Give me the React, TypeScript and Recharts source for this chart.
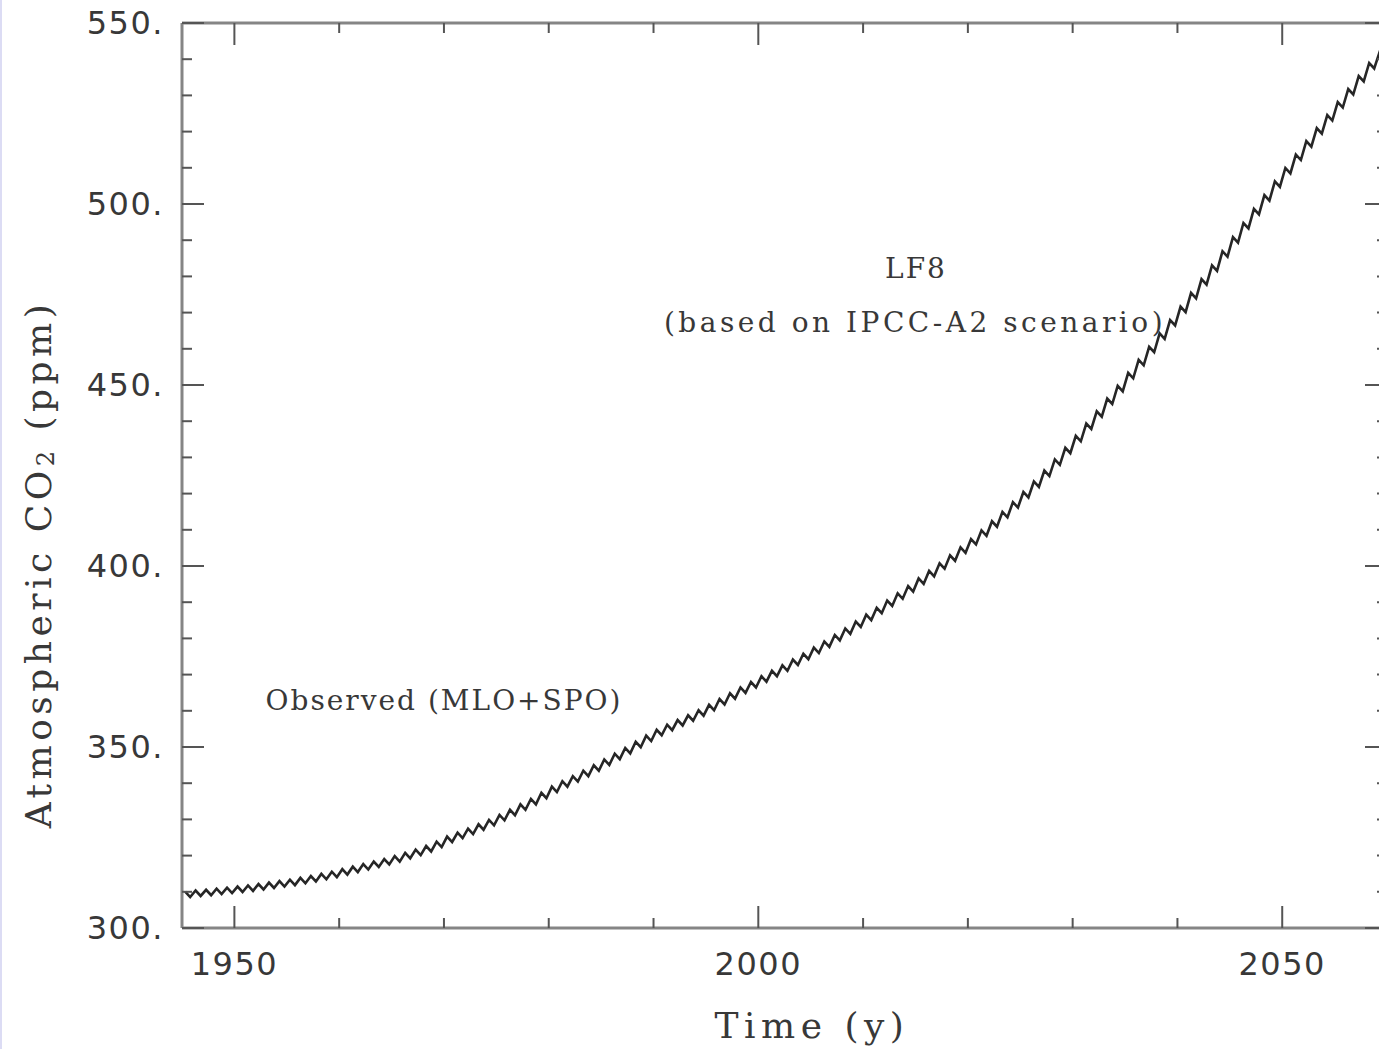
import React from 'react';
import { LineChart, Line, XAxis, YAxis, Customized } from 'recharts';

// Annual mean CO2 (ppm), one value per year starting at START_YEAR
const START_YEAR = 1945;
const ANNUAL_CO2 = [
  309.3, 309.6, 309.8, 310.1, 310.4, // 1945-1949
  310.7, 311.0, 311.4, 311.8, 312.2, // 1950-1954
  312.6, 313.1, 313.6, 314.2, 314.8, // 1955-1959
  315.5, 316.2, 316.9, 317.6, 318.3, // 1960-1964
  319.1, 320.0, 320.9, 321.9, 323.1, // 1965-1969
  324.5, 325.6, 326.7, 327.9, 329.1, // 1970-1974
  330.5, 331.9, 333.4, 334.9, 336.6, // 1975-1979
  338.3, 339.8, 341.2, 342.7, 344.2, // 1980-1984
  345.8, 347.4, 349.0, 350.7, 352.4, // 1985-1989
  354.0, 355.4, 356.7, 358.0, 359.4, // 1990-1994
  360.9, 362.5, 364.1, 365.7, 367.2, // 1995-1999
  368.8, 370.3, 371.8, 373.4, 375.0, // 2000-2004
  376.7, 378.4, 380.2, 382.0, 383.9, // 2005-2009
  385.8, 387.7, 389.7, 391.7, 393.7, // 2010-2014
  395.8, 397.9, 400.0, 402.2, 404.4, // 2015-2019
  406.7, 409.1, 411.6, 414.2, 416.9, // 2020-2024
  419.7, 422.6, 425.6, 428.7, 431.9, // 2025-2029
  435.2, 438.6, 442.0, 445.5, 449.0, // 2030-2034
  452.6, 456.2, 459.8, 463.5, 467.2, // 2035-2039
  470.9, 474.7, 478.5, 482.3, 486.2, // 2040-2044
  490.1, 494.0, 497.9, 501.7, 505.5, // 2045-2049
  509.2, 512.9, 516.6, 520.2, 523.8, // 2050-2054
  527.4, 531.0, 534.6, 538.2, 541.3, // 2055-2059
  544.4, // 2060
];

// Seasonal cycle: position of the yearly maximum / minimum and offset from the annual mean (ppm)
const SEASON_PHASE = [0.3, 0.78];
const SEASON_OFFSET = [0.75, -0.75];

const X_DOMAIN = [1945, 2060];
const Y_DOMAIN = [300, 550];
const X_TICKS = [1950, 1960, 1970, 1980, 1990, 2000, 2010, 2020, 2030, 2040, 2050, 2060];
const X_MAJOR = [1950, 2000, 2050];
const Y_TICKS = [300, 310, 320, 330, 340, 350, 360, 370, 380, 390, 400, 410, 420, 430, 440, 450, 460, 470, 480, 490, 500, 510, 520, 530, 540, 550];
const Y_MAJOR = [300, 350, 400, 450, 500, 550];

const data: { t: number; co2: number }[] = [];
ANNUAL_CO2.forEach((v, i) => {
  const yr = START_YEAR + i;
  SEASON_PHASE.forEach((p, k) => {
    const t = yr + p;
    if (t <= X_DOMAIN[1]) data.push({ t, co2: +(v + SEASON_OFFSET[k]).toFixed(2) });
  });
});

const TICK_COLOR = '#555555';
const AXIS_COLOR = '#858585';
const TEXT_COLOR = '#383838';
const SANS = '"DejaVu Sans", sans-serif';
const SERIF = '"DejaVu Serif", serif';
const MAJOR_LEN = 22;
const MINOR_LEN = 10;

const BottomTick = (props: any) => {
  const { x, y, payload } = props;
  const major = X_MAJOR.includes(payload.value);
  return (
    <g>
      <line x1={x} x2={x} y1={y} y2={y - (major ? MAJOR_LEN : MINOR_LEN)} stroke={TICK_COLOR} strokeWidth={2} />
      {major && (
        <text x={x} y={y + 36} textAnchor="middle" dominantBaseline="central" fontFamily={SANS} fontSize={32} letterSpacing={1.5} fill={TEXT_COLOR}>
          {payload.value}
        </text>
      )}
    </g>
  );
};

const TopTick = (props: any) => {
  const { x, y, payload } = props;
  const major = X_MAJOR.includes(payload.value);
  return <line x1={x} x2={x} y1={y} y2={y + (major ? MAJOR_LEN : MINOR_LEN)} stroke={TICK_COLOR} strokeWidth={2} />;
};

const LeftTick = (props: any) => {
  const { x, y, payload } = props;
  const major = Y_MAJOR.includes(payload.value);
  return (
    <g>
      <line x1={x} x2={x + (major ? MAJOR_LEN : MINOR_LEN)} y1={y} y2={y} stroke={TICK_COLOR} strokeWidth={2} />
      {major && (
        <text x={x - 18} y={y} textAnchor="end" dominantBaseline="central" fontFamily={SANS} fontSize={32} letterSpacing={1.5} fill={TEXT_COLOR}>
          {payload.value + '.'}
        </text>
      )}
    </g>
  );
};

const RightTick = (props: any) => {
  const { x, y, payload } = props;
  const major = Y_MAJOR.includes(payload.value);
  return <line x1={x} x2={x - (major ? MAJOR_LEN : MINOR_LEN)} y1={y} y2={y} stroke={TICK_COLOR} strokeWidth={2} />;
};

const Annotations = () => (
  <g>
    <text
      x={38}
      y={564}
      transform="rotate(-90 38 564)"
      textAnchor="middle"
      dominantBaseline="central"
      fontFamily={SERIF}
      fontSize={36}
      letterSpacing={4.5}
      fill={TEXT_COLOR}
    >
      Atmospheric CO
      <tspan fontSize={24} dy={8}>2</tspan>
      <tspan dy={-8}> (ppm)</tspan>
    </text>
    <text x={812} y={1025} textAnchor="middle" dominantBaseline="central" fontFamily={SERIF} fontSize={36} letterSpacing={5.5} fill={TEXT_COLOR}>
      Time (y)
    </text>
    <text x={444} y={700} textAnchor="middle" dominantBaseline="central" fontFamily={SERIF} fontSize={28} letterSpacing={2} fill={TEXT_COLOR}>
      Observed (MLO+SPO)
    </text>
    <text x={916} y={268} textAnchor="middle" dominantBaseline="central" fontFamily={SERIF} fontSize={28} letterSpacing={2} fill={TEXT_COLOR}>
      LF8
    </text>
    <text x={915} y={322} textAnchor="middle" dominantBaseline="central" fontFamily={SERIF} fontSize={28} letterSpacing={3.5} fill={TEXT_COLOR}>
      (based on IPCC-A2 scenario)
    </text>
  </g>
);

export default function App() {
  return (
    <div
      style={{
        position: 'fixed',
        left: 0,
        top: 0,
        width: 1379,
        height: 1049,
        overflow: 'hidden',
        background: '#ffffff',
      }}
    >
      <LineChart width={1400} height={1049} data={data} margin={{ top: 22, right: 12, bottom: 0, left: 0 }}>
        <XAxis
          xAxisId={0}
          dataKey="t"
          type="number"
          domain={X_DOMAIN}
          allowDataOverflow
          ticks={X_TICKS}
          interval={0}
          tickSize={0}
          tickMargin={0}
          height={121}
          tick={<BottomTick />}
          tickLine={false}
          axisLine={{ stroke: AXIS_COLOR, strokeWidth: 3 }}
        />
        <XAxis
          xAxisId="top"
          orientation="top"
          dataKey="t"
          type="number"
          domain={X_DOMAIN}
          allowDataOverflow
          ticks={X_TICKS}
          interval={0}
          tickSize={0}
          tickMargin={0}
          height={1}
          tick={<TopTick />}
          tickLine={false}
          axisLine={{ stroke: AXIS_COLOR, strokeWidth: 3 }}
        />
        <YAxis
          yAxisId={0}
          type="number"
          domain={Y_DOMAIN}
          allowDataOverflow
          ticks={Y_TICKS}
          interval={0}
          tickSize={0}
          tickMargin={0}
          width={182}
          tick={<LeftTick />}
          tickLine={false}
          axisLine={{ stroke: AXIS_COLOR, strokeWidth: 3 }}
        />
        <YAxis
          yAxisId="right"
          orientation="right"
          type="number"
          domain={Y_DOMAIN}
          allowDataOverflow
          ticks={Y_TICKS}
          interval={0}
          tickSize={0}
          tickMargin={0}
          width={1}
          tick={<RightTick />}
          tickLine={false}
          axisLine={{ stroke: AXIS_COLOR, strokeWidth: 3 }}
        />
        <Line
          xAxisId="top"
          yAxisId="right"
          type="linear"
          dataKey="co2"
          stroke="none"
          strokeWidth={0}
          dot={false}
          activeDot={false}
          legendType="none"
          isAnimationActive={false}
        />
        <Line
          xAxisId={0}
          yAxisId={0}
          type="linear"
          dataKey="co2"
          stroke="#262626"
          strokeWidth={2.6}
          dot={false}
          isAnimationActive={false}
        />
        <Customized component={Annotations} />
      </LineChart>
      <div style={{ position: 'absolute', left: 0, top: 0, width: 2, height: 1049, background: '#dcdcf4' }} />
    </div>
  );
}
